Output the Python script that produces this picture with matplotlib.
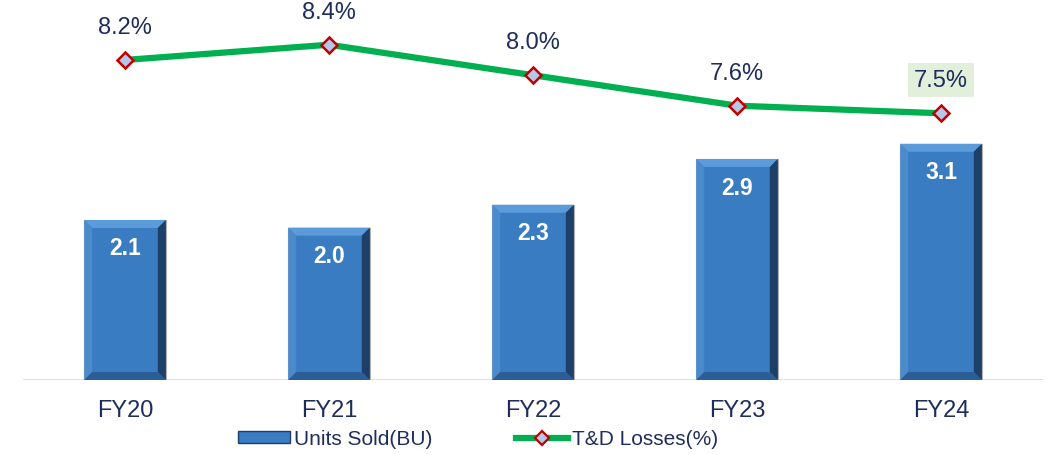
import matplotlib.pyplot as plt
from matplotlib.patches import Polygon, Patch
from matplotlib.lines import Line2D

plt.rcParams['font.family'] = ['Liberation Sans', 'DejaVu Sans']

years = ['FY20', 'FY21', 'FY22', 'FY23', 'FY24']
units_sold = [2.1, 2.0, 2.3, 2.9, 3.1]
td_losses = [8.2, 8.4, 8.0, 7.6, 7.5]

navy = '#1F2D5C'
W, H = 10.54, 4.56
fig = plt.figure(figsize=(W, H), dpi=100)
ax = fig.add_axes([23 / 1054, 75 / 456, 1020 / 1054, 381 / 456])
ax2 = ax.twinx()

x = list(range(len(years)))
bars = ax.bar(x, units_sold, width=0.4, color='#3A7CC2', edgecolor='#B0B0B0',
              linewidth=0.8, zorder=2)
ax.set_xlim(-0.5, 4.5)
ax.set_ylim(0, 5.0)

# bevel look on each bar
px_x = (ax.get_xlim()[1] - ax.get_xlim()[0]) / 1020
px_y = (ax.get_ylim()[1] - ax.get_ylim()[0]) / 381
bx, by = 8 * px_x, 8 * px_y
for b in bars:
    x0, y0 = b.get_x(), b.get_y()
    x1, y1 = x0 + b.get_width(), y0 + b.get_height()
    faces = [
        ([(x0, y1), (x1, y1), (x1 - bx, y1 - by), (x0 + bx, y1 - by)], '#5B9BD9'),
        ([(x0, y0), (x0, y1), (x0 + bx, y1 - by), (x0 + bx, y0 + by)], '#4A8BCD'),
        ([(x1, y0), (x1, y1), (x1 - bx, y1 - by), (x1 - bx, y0 + by)], '#1E3F68'),
        ([(x0, y0), (x1, y0), (x1 - bx, y0 + by), (x0 + bx, y0 + by)], '#2B5E96'),
    ]
    for pts, c in faces:
        ax.add_patch(Polygon(pts, closed=True, facecolor=c, edgecolor='none', zorder=3))
    ax.text(b.get_x() + b.get_width() / 2, y1 - 28 * px_y, f'{b.get_height():.1f}',
            ha='center', va='center', color='white', fontsize=16.5,
            fontweight='bold', zorder=4)

ax.axhline(0, color='#D9D9D9', lw=1.2, zorder=1)
for s in ax.spines.values():
    s.set_visible(False)
for s in ax2.spines.values():
    s.set_visible(False)
ax.set_yticks([])
ax2.set_yticks([])
ax.set_xticks(x)
ax.set_xticklabels(years, fontsize=17, color=navy)
ax.tick_params(axis='x', length=0, pad=14)

ax2.plot(x, td_losses, color='#00B050', lw=4.5, marker='D', markersize=8.5,
         markerfacecolor='#B4C7E7', markeredgecolor='#C00000', markeredgewidth=1.8,
         zorder=5)
ax2.set_ylim(4.0, 9.0)
for i, v in enumerate(td_losses):
    kw = {}
    if i == len(td_losses) - 1:
        kw['bbox'] = dict(boxstyle='square,pad=0.25', facecolor='#E2EFDA', edgecolor='none')
    ax2.annotate(f'{v:.1f}%', (i, v), xytext=(0, 33), textcoords='offset points' if False else 'offset pixels',
                 ha='center', va='center', fontsize=17, color=navy, **kw)

handles = [
    Patch(facecolor='#3A7CC2', edgecolor='#1E3F68', linewidth=1),
    Line2D([0], [0], color='#00B050', lw=4.5, marker='D', markersize=7,
           markerfacecolor='#B4C7E7', markeredgecolor='#C00000', markeredgewidth=1.6),
]
fig.legend(handles, ['Units Sold(BU)', 'T&D Losses(%)'], loc='center',
           bbox_to_anchor=(478 / 1054, 1 - 440 / 456), ncol=2, frameon=False,
           fontsize=15, labelcolor=navy, handlelength=2.5, handleheight=0.5,
           handletextpad=0.2, columnspacing=4)

fig.savefig('out.png', dpi=100)
